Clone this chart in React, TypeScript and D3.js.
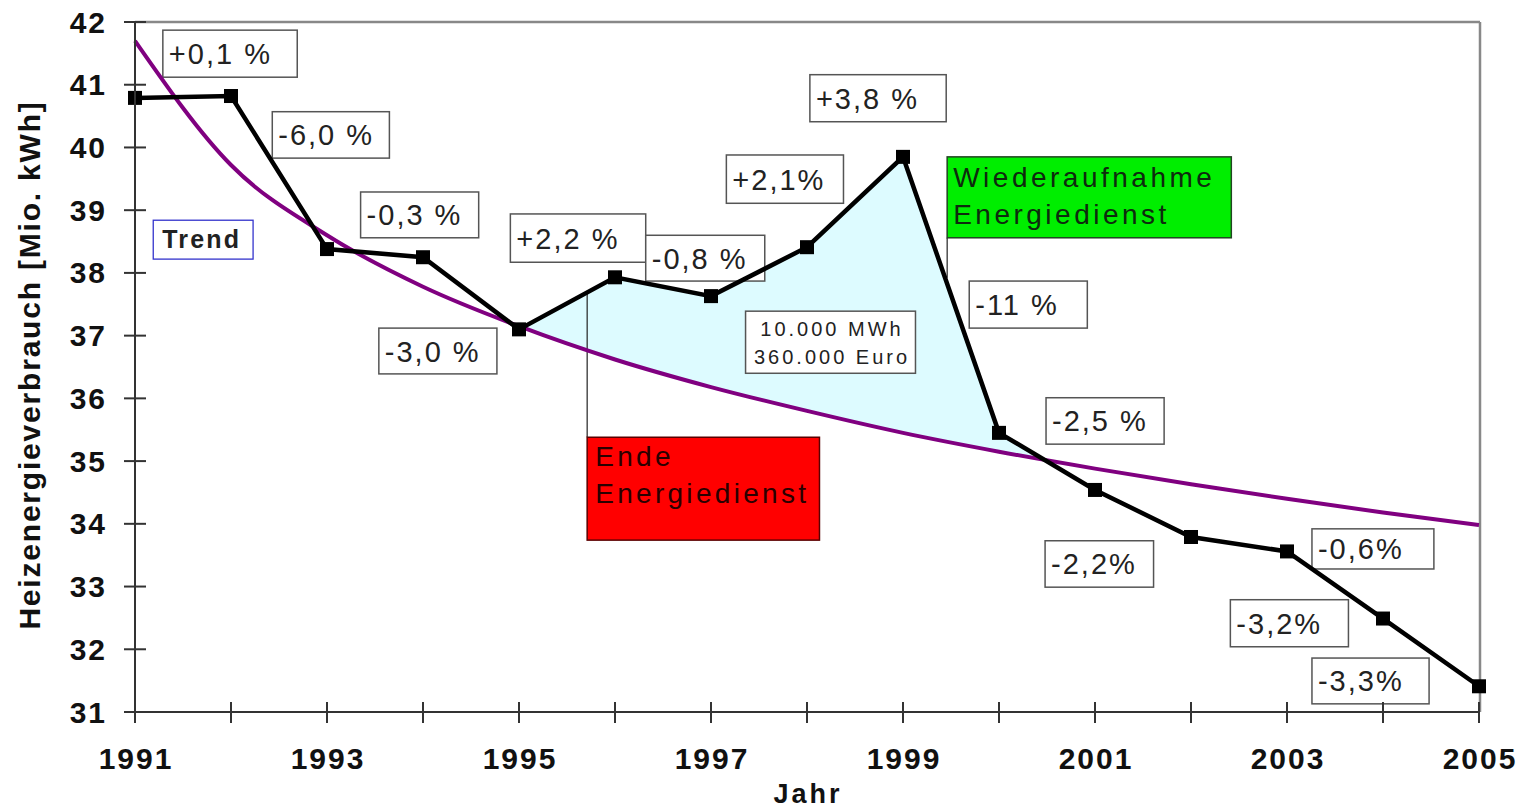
import React from 'react';
import * as d3 from 'd3';

// Heizenergieverbrauch 1991-2005
const years = [1991, 1992, 1993, 1994, 1995, 1996, 1997, 1998, 1999, 2000, 2001, 2002, 2003, 2004, 2005];
const consumption = [40.79, 40.82, 38.38, 38.25, 37.1, 37.93, 37.63, 38.41, 39.85, 35.45, 34.54, 33.79, 33.56, 32.49, 31.41];
const trend = [41.7, 39.72, 38.6, 37.78, 37.15, 36.62, 36.18, 35.8, 35.45, 35.15, 34.88, 34.63, 34.4, 34.18, 33.98];

const yTickValues = [31, 32, 33, 34, 35, 36, 37, 38, 39, 40, 41, 42];
const xLabelYears = [1991, 1993, 1995, 1997, 1999, 2001, 2003, 2005];

const changeLabels = ['+0,1 %', '-6,0 %', '-0,3 %', '-3,0 %', '+2,2 %', '-0,8 %', '+2,1%', '+3,8 %', '-11 %', '-2,5 %', '-2,2%', '-0,6%', '-3,2%', '-3,3%'];
// box layout in chart units: [yearLeft, yearRight, valueTop, valueBottom]
const changeBoxes = [
  [1991.29, 1992.69, 41.87, 41.12],
  [1992.43, 1993.65, 40.57, 39.83],
  [1993.35, 1994.58, 39.29, 38.56],
  [1993.54, 1994.77, 37.12, 36.39],
  [1994.91, 1996.32, 38.94, 38.17],
  [1996.32, 1997.56, 38.6, 37.87],
  [1997.16, 1998.38, 39.88, 39.11],
  [1998.03, 1999.45, 41.16, 40.41],
  [1999.69, 2000.92, 37.87, 37.12],
  [2000.49, 2001.72, 36.01, 35.27],
  [2000.48, 2001.61, 33.73, 32.99],
  [2003.26, 2004.53, 33.92, 33.28],
  [2002.41, 2003.64, 32.79, 32.04],
  [2003.26, 2004.48, 31.86, 31.13],
];

const savingLines = ['10.000 MWh', '360.000 Euro'];
const savingBox = [1997.36, 1999.13, 37.39, 36.4];
const trendBox = [1991.19, 1992.23, 38.84, 38.22];
const endLines = ['Ende', 'Energiedienst'];
const endBox = [1995.71, 1998.13, 35.38, 33.74];
const resumeLines = ['Wiederaufnahme', 'Energiedienst'];
const resumeBox = [1999.46, 2002.42, 39.85, 38.56];

const FONT = '"Liberation Sans", Arial, sans-serif';

export default function App() {
  const width = 1526;
  const height = 810;

  const x = d3.scaleLinear().domain([1991, 2005]).range([135, 1479]);
  const y = d3.scaleLinear().domain([31, 42]).range([712, 22]);
  const dataAt = d3.scaleLinear().domain(years).range(consumption);

  const dataLine = d3.line<number>()
    .x((d, i) => x(years[i]))
    .y((d) => y(d));

  const trendLine = d3.line<number>()
    .x((d, i) => x(years[i]))
    .y((d) => y(d))
    .curve(d3.curveMonotoneX);

  // light blue area: above the trend from 1995 until the lines cross after 2000
  const i0 = years.indexOf(1995);
  const i1 = years.indexOf(2000);
  const d0 = consumption[i1] - trend[i1];
  const d1 = consumption[i1 + 1] - trend[i1 + 1];
  const t = d0 / (d0 - d1);
  const crossYear = years[i1] + t;
  const crossVal = consumption[i1] + t * (consumption[i1 + 1] - consumption[i1]);
  const fillPts: [number, number][] = [];
  for (let i = i0; i <= i1; i++) fillPts.push([x(years[i]), y(consumption[i])]);
  fillPts.push([x(crossYear), y(crossVal)]);
  for (let i = i1; i >= i0; i--) fillPts.push([x(years[i]), y(trend[i])]);
  const fillPath = d3.line()(fillPts) + 'Z';

  const rect = (b: number[]) => ({
    x: x(b[0]),
    y: y(b[2]),
    width: x(b[1]) - x(b[0]),
    height: y(b[3]) - y(b[2]),
  });

  const er = rect(endBox);
  const gr = rect(resumeBox);
  const sr = rect(savingBox);
  const tr = rect(trendBox);

  return (
    <svg width={width} height={height} style={{ position: 'absolute', left: 0, top: 0, background: '#fff' }} fontFamily={FONT}>
      {/* frame */}
      <line x1={x(1991)} x2={x(2005) + 1} y1={y(42)} y2={y(42)} stroke="#888" strokeWidth={2.5} />
      <line x1={x(2005) + 1} x2={x(2005) + 1} y1={y(42)} y2={y(31)} stroke="#888" strokeWidth={2.5} />

      {/* savings area */}
      <path d={fillPath} fill="#ddfbff" stroke="none" />

      {/* connectors */}
      <line x1={x(endBox[0])} x2={x(endBox[0])} y1={y(dataAt(endBox[0]))} y2={er.y} stroke="#222" strokeWidth={1.2} />
      <line x1={x(resumeBox[0])} x2={x(resumeBox[0])} y1={gr.y + gr.height} y2={y(dataAt(resumeBox[0])) - 6} stroke="#222" strokeWidth={1.2} />

      {/* end / resume boxes */}
      <rect {...er} fill="#ff0000" stroke="#5a0000" strokeWidth={1.5} />
      {endLines.map((s, i) => (
        <text key={s + i} x={er.x + 8} y={er.y + 29 + i * 37} fontSize={28} letterSpacing={3.3} fill="#2a0000">{s}</text>
      ))}
      <rect {...gr} fill="#00ee00" stroke="#224422" strokeWidth={1.5} />
      {resumeLines.map((s, i) => (
        <text key={s + i} x={gr.x + 6} y={gr.y + 30 + i * 37} fontSize={28} letterSpacing={3.5} fill="#0e2a0e">{s}</text>
      ))}

      {/* change labels */}
      {changeLabels.map((s, i) => {
        const r = rect(changeBoxes[i]);
        return (
          <g key={i}>
            <rect {...r} fill="#fff" stroke="#555" strokeWidth={1.5} />
            <text x={r.x + 6} y={r.y + r.height / 2 + 10.5} fontSize={29} letterSpacing={2} fill="#222">{s}</text>
          </g>
        );
      })}

      {/* savings box */}
      <rect {...sr} fill="#fff" stroke="#555" strokeWidth={1.5} />
      {savingLines.map((s, i) => (
        <text key={s} x={sr.x + sr.width / 2 + 1.5} y={sr.y + 25 + i * 28} fontSize={20} letterSpacing={3} textAnchor="middle" fill="#222">{s}</text>
      ))}

      {/* trend label */}
      <rect {...tr} fill="#fff" stroke="#3333cc" strokeWidth={1.3} />
      <text x={tr.x + 9} y={tr.y + 28} fontSize={25} fontWeight="bold" letterSpacing={2.2} fill="#222">Trend</text>

      {/* trend */}
      <path d={trendLine(trend) || ''} fill="none" stroke="#800080" strokeWidth={4} />

      {/* consumption */}
      <path d={dataLine(consumption) || ''} fill="none" stroke="#000" strokeWidth={4.5} strokeLinejoin="miter" />
      {consumption.map((v, i) => (
        <rect key={i} x={x(years[i]) - 7} y={y(v) - 7} width={14} height={14} fill="#000" />
      ))}

      {/* axes */}
      <line x1={x(1991)} x2={x(1991)} y1={y(42)} y2={y(31)} stroke="#333" strokeWidth={2} />
      <line x1={x(1991)} x2={x(2005)} y1={y(31)} y2={y(31)} stroke="#333" strokeWidth={2} />
      {yTickValues.map((v) => (
        <g key={v}>
          <line x1={x(1991) - 11} x2={x(1991) + 11} y1={y(v)} y2={y(v)} stroke="#333" strokeWidth={2} />
          <text x={107} y={y(v) + 10.5} fontSize={30} fontWeight="bold" letterSpacing={2} textAnchor="end" fill="#111">{v}</text>
        </g>
      ))}
      {years.map((yr) => (
        <line key={yr} x1={x(yr)} x2={x(yr)} y1={y(31) - 10} y2={y(31) + 11} stroke="#333" strokeWidth={2} />
      ))}
      {xLabelYears.map((yr) => (
        <text key={yr} x={x(yr) + 1} y={769} fontSize={30} fontWeight="bold" letterSpacing={2} textAnchor="middle" fill="#111">{yr}</text>
      ))}

      <text x={808} y={803} fontSize={27} fontWeight="bold" letterSpacing={3} textAnchor="middle" fill="#111">Jahr</text>
      <text transform="translate(40,365) rotate(-90)" fontSize={30} fontWeight="bold" letterSpacing={1.8} textAnchor="middle" fill="#111">Heizenergieverbrauch [Mio. kWh]</text>
    </svg>
  );
}
